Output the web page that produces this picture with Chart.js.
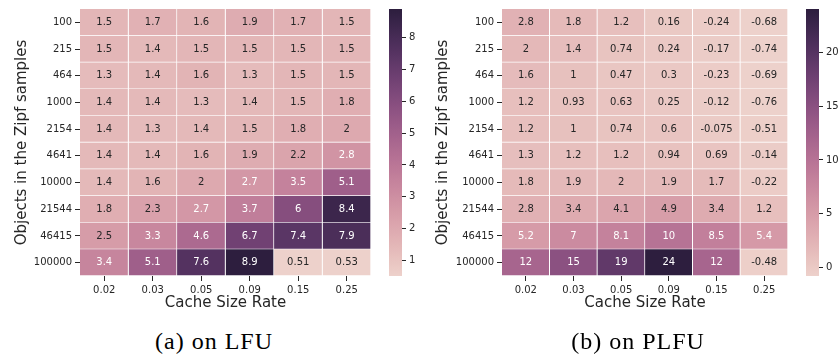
<!DOCTYPE html>
<html>
<head>
<meta charset="utf-8">
<script src="https://cdn.jsdelivr.net/npm/chart.js@4"></script>
<style>
  body { margin: 0; background: #fff; }
  #wrap { position: relative; width: 840px; height: 358px; overflow: hidden; }
  canvas { position: absolute; }
  .cap { position: absolute; width: 300px; text-align: center; font-family: "Liberation Serif", serif; font-size: 24px; line-height: 24px; letter-spacing: 1px; color: #000; }
</style>
</head>
<body>
<div id="wrap">
  <canvas id="lfu" width="375" height="318" style="left:0;top:0"></canvas>
  <canvas id="lfuBar" width="60" height="318" style="left:375px;top:0"></canvas>
  <canvas id="plfu" width="372" height="318" style="left:420px;top:0"></canvas>
  <canvas id="plfuBar" width="48" height="318" style="left:792px;top:0"></canvas>
  <div class="cap" style="left:64px;top:329px">(a) on LFU</div>
  <div class="cap" style="left:488px;top:329px">(b) on PLFU</div>
</div>
<script>
const cacheRates = ['0.02', '0.03', '0.05', '0.09', '0.15', '0.25'];
const objectCounts = ['100', '215', '464', '1000', '2154', '4641', '10000', '21544', '46415', '100000'];

// rows = objectCounts, columns = cacheRates
const lfuValues = [
  [1.5, 1.7, 1.6, 1.9, 1.7, 1.5],
  [1.5, 1.4, 1.5, 1.5, 1.5, 1.5],
  [1.3, 1.4, 1.6, 1.3, 1.5, 1.5],
  [1.4, 1.4, 1.3, 1.4, 1.5, 1.8],
  [1.4, 1.3, 1.4, 1.5, 1.8, 2],
  [1.4, 1.4, 1.6, 1.9, 2.2, 2.8],
  [1.4, 1.6, 2, 2.7, 3.5, 5.1],
  [1.8, 2.3, 2.7, 3.7, 6, 8.4],
  [2.5, 3.3, 4.6, 6.7, 7.4, 7.9],
  [3.4, 5.1, 7.6, 8.9, 0.51, 0.53]
];
const plfuValues = [
  [2.8, 1.8, 1.2, 0.16, -0.24, -0.68],
  [2, 1.4, 0.74, 0.24, -0.17, -0.74],
  [1.6, 1, 0.47, 0.3, -0.23, -0.69],
  [1.2, 0.93, 0.63, 0.25, -0.12, -0.76],
  [1.2, 1, 0.74, 0.6, -0.075, -0.51],
  [1.3, 1.2, 1.2, 0.94, 0.69, -0.14],
  [1.8, 1.9, 2, 1.9, 1.7, -0.22],
  [2.8, 3.4, 4.1, 4.9, 3.4, 1.2],
  [5.2, 7, 8.1, 10, 8.5, 5.4],
  [12, 15, 19, 24, 12, -0.48]
];
const lfuCbarTicks = [1, 2, 3, 4, 5, 6, 7, 8];
const plfuCbarTicks = [0, 5, 10, 15, 20];

const TEXT = '#262626';
Chart.defaults.font.family = '"DejaVu Sans", sans-serif';
Chart.defaults.font.size = 10;
Chart.defaults.color = TEXT;
Chart.defaults.animation = false;

// seaborn default cubehelix_palette(as_cmap=True)
function cubehelix(x) {
  const a = 0.8 * x * (1 - x) / 2;
  const phi = 2 * Math.PI * (0.4 * x);
  const c = Math.cos(phi), s = Math.sin(phi);
  const clip = v => Math.max(0, Math.min(1, v));
  return [
    clip(x + a * (-0.14861 * c + 1.78277 * s)),
    clip(x + a * (-0.29227 * c - 0.90649 * s)),
    clip(x + a * (1.97294 * c))
  ];
}
function cmap(t) {
  t = Math.max(0, Math.min(1, t));
  const i = Math.min(255, Math.floor(t * 256));
  return cubehelix(0.85 - 0.7 * i / 255);
}
function rgb(c) { return 'rgb(' + c.map(v => Math.round(v * 255)).join(',') + ')'; }
function lum(c) {
  const l = c.map(v => v <= 0.03928 ? v / 12.92 : Math.pow((v + 0.055) / 1.055, 2.4));
  return 0.2126 * l[0] + 0.7152 * l[1] + 0.0722 * l[2];
}
function fmt(v) { return String(Number(v.toPrecision(2))); }

function heatmap(id, values, box) {
  const flat = values.flat();
  const vmin = Math.min(...flat), vmax = Math.max(...flat);
  const color = v => cmap((v - vmin) / (vmax - vmin));

  const datasets = cacheRates.map((rate, ci) => ({
    label: rate,
    data: objectCounts.map(() => 1),
    backgroundColor: values.map(row => rgb(color(row[ci]))),
    borderColor: '#ffffff',
    borderWidth: { right: 1, bottom: 1 },
    borderSkipped: false,
    barPercentage: 1,
    categoryPercentage: 1
  }));

  const cellText = {
    id: 'cellText',
    afterDatasetsDraw(chart) {
      const ctx = chart.ctx;
      ctx.save();
      ctx.font = '10px "DejaVu Sans"';
      ctx.textAlign = 'center';
      ctx.textBaseline = 'middle';
      chart.data.datasets.forEach((ds, ci) => {
        chart.getDatasetMeta(ci).data.forEach((el, ri) => {
          const v = values[ri][ci];
          ctx.fillStyle = lum(color(v)) > 0.408 ? TEXT : '#ffffff';
          ctx.fillText(fmt(v), (el.x + el.base) / 2, el.y);
        });
      });
      ctx.restore();
    }
  };

  new Chart(document.getElementById(id), {
    type: 'bar',
    data: { labels: objectCounts, datasets },
    options: {
      indexAxis: 'y',
      responsive: false,
      layout: { padding: { top: box.top, right: box.right, left: 0, bottom: 0 } },
      plugins: { legend: { display: false }, tooltip: { enabled: false } },
      scales: {
        x: {
          type: 'linear', stacked: true, min: 0, max: 6,
          afterBuildTicks: s => { s.ticks = cacheRates.map((r, i) => ({ value: i + 0.5 })); },
          afterFit: s => { s.height = box.xh; },
          ticks: { callback: (v, i) => cacheRates[i], autoSkip: false, maxRotation: 0, padding: 3 },
          grid: { drawOnChartArea: false, tickLength: 5, color: TEXT },
          border: { display: false },
          title: { display: true, text: 'Cache Size Rate', font: { size: 15 }, padding: { top: 0, bottom: box.xtp } }
        },
        y: {
          stacked: true,
          afterFit: s => { s.width = box.yw; },
          ticks: { autoSkip: false, padding: 3 },
          grid: { offset: false, drawOnChartArea: false, tickLength: 5, color: TEXT },
          border: { display: false },
          title: { display: true, text: 'Objects in the Zipf samples', font: { size: 15 }, padding: { top: box.ytp, bottom: 0 } }
        }
      }
    },
    plugins: [cellText]
  });
  return { vmin, vmax };
}

function colorbar(id, range, ticks, box) {
  const { vmin, vmax } = range;
  new Chart(document.getElementById(id), {
    type: 'bar',
    data: {
      labels: [''],
      datasets: [{
        data: [[vmin, vmax]],
        barPercentage: 1,
        categoryPercentage: 1,
        borderWidth: 0,
        backgroundColor: c => {
          const a = c.chart.chartArea;
          if (!a) return 'transparent';
          const g = c.chart.ctx.createLinearGradient(0, a.bottom, 0, a.top);
          for (let i = 0; i <= 64; i++) g.addColorStop(i / 64, rgb(cmap(i / 64)));
          return g;
        }
      }]
    },
    options: {
      responsive: false,
      layout: { padding: { left: box.left, top: box.top, bottom: box.bottom, right: 0 } },
      plugins: { legend: { display: false }, tooltip: { enabled: false } },
      scales: {
        x: { display: false },
        y: {
          position: 'right', min: vmin, max: vmax,
          afterBuildTicks: s => { s.ticks = ticks.map(v => ({ value: v })); },
          afterFit: s => { s.width = box.right; },
          ticks: { padding: 3 },
          grid: { drawOnChartArea: false, tickLength: 4, color: TEXT },
          border: { display: false }
        }
      }
    }
  });
}

const lfuRange = heatmap('lfu', lfuValues, { top: 4, right: 4, yw: 80, xh: 42, xtp: 6, ytp: 13 });
const plfuRange = heatmap('plfu', plfuValues, { top: 9, right: 4, yw: 82, xh: 42, xtp: 6, ytp: 14 });
colorbar('lfuBar', lfuRange, lfuCbarTicks, { left: 14, top: 4, bottom: 42, right: 33 });
colorbar('plfuBar', plfuRange, plfuCbarTicks, { left: 14, top: 9, bottom: 42, right: 21 });
</script>
</body>
</html>
